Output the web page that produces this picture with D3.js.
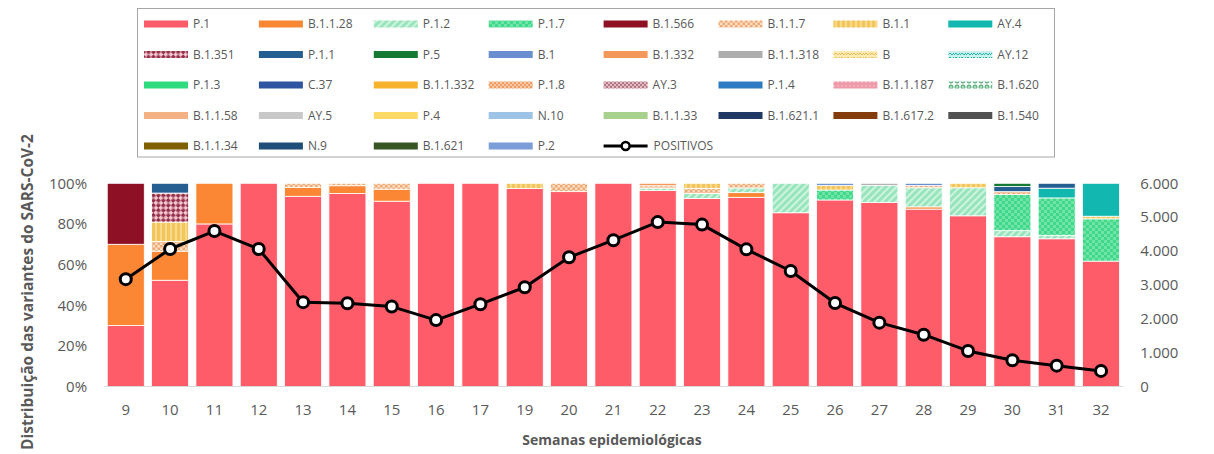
<!DOCTYPE html>
<html>
<head>
<meta charset="utf-8">
<script src="https://cdn.jsdelivr.net/npm/d3@7"></script>
<style>
  body { margin: 0; background: #fff; }
  text { font-family: "Open Sans", "Liberation Sans", sans-serif; }
</style>
</head>
<body>
<svg id="chart" width="1214" height="454"></svg>
<script>
// Epidemiological weeks on the x axis
const weeks = ["9","10","11","12","13","14","15","16","17","19","20","21","22","23","24","25","26","27","28","29","30","31","32"];

// Positive cases per week (right axis)
const positives = [3170, 4060, 4590, 4060, 2490, 2460, 2360, 1960, 2430, 2930, 3815, 4320, 4855, 4780, 4050, 3410, 2465, 1885, 1530, 1050, 775, 615, 460];

// Variant names, in stacking / legend order
const variants = ["P.1","B.1.1.28","P.1.2","P.1.7","B.1.566","B.1.1.7","B.1.1","AY.4",
  "B.1.351","P.1.1","P.5","B.1","B.1.332","B.1.1.318","B","AY.12",
  "P.1.3","C.37","B.1.1.332","P.1.8","AY.3","P.1.4","B.1.1.187","B.1.620",
  "B.1.1.58","AY.5","P.4","N.10","B.1.1.33","B.1.621.1","B.1.617.2","B.1.540",
  "B.1.1.34","N.9","B.1.621","P.2"];

// Base colour of each variant
const variantColors = ["#FF5C6A","#FB8633","#9BE6BF","#40D98A","#8E1025","#F6C9A4","#F2C75E","#12B8B0",
  "#C05A72","#255E91","#157A33","#6A8ED0","#F3975B","#ADADAD","#FCE3A0","#8EDDD5",
  "#2EDB7F","#2F55A0","#F8B32C","#F4A87A","#C8949E","#2E7BC2","#EE9AA8","#3C9A66",
  "#F4B183","#C8C8C8","#FFD966","#9DC3E6","#A9D18E","#203864","#843C0C","#525252",
  "#7F6000","#1F4E79","#375623","#7B9ED8"];

// Share (%) of each detected variant per week
const shareP1      = [30, 52.3, 80, 100, 93.6, 95, 91.2, 100, 100, 97.5, 95.9, 100, 96.4, 92.5, 93.1, 85.5, 91.8, 90.5, 87.3, 84.0, 73.7, 72.7, 61.7];
const shareB1128   = [40, 14.3, 20, 0, 4.3, 3.8, 5.9, 0, 0, 0, 0, 0, 0, 0, 2.3, 0, 0, 0, 1.1, 0, 0, 0, 0];
const shareP12     = [0, 0, 0, 0, 0, 0, 0, 0, 0, 0, 0, 0, 1.2, 2.5, 2.3, 14.5, 0, 8.5, 9.4, 13.8, 3.0, 1.7, 0];
const shareP17     = [0, 0, 0, 0, 0, 0, 0, 0, 0, 0, 0, 0, 0, 0, 0, 0, 4.9, 0, 0, 0, 17.8, 18.4, 20.8];
const shareB1566   = [30, 0, 0, 0, 0, 0, 0, 0, 0, 0, 0, 0, 0, 0, 0, 0, 0, 0, 0, 0, 0, 0, 0];
const shareB117    = [0, 4.8, 0, 0, 2.1, 1.2, 2.9, 0, 0, 0, 4.1, 0, 1.2, 2.5, 2.3, 0, 0, 0, 1.1, 0, 1.4, 0, 0];
const shareB11     = [0, 9.5, 0, 0, 0, 0, 0, 0, 0, 2.5, 0, 0, 0, 2.5, 0, 0, 2.3, 0, 0, 2.2, 0, 0, 1.3];
const shareAY4     = [0, 0, 0, 0, 0, 0, 0, 0, 0, 0, 0, 0, 0, 0, 0, 0, 0, 0, 0, 0, 0, 4.8, 16.2];
const shareB1351   = [0, 14.3, 0, 0, 0, 0, 0, 0, 0, 0, 0, 0, 0, 0, 0, 0, 0, 0, 0, 0, 0, 0, 0];
const shareP11     = [0, 4.8, 0, 0, 0, 0, 0, 0, 0, 0, 0, 0, 0, 0, 0, 0, 0, 0, 0, 0, 2.5, 2.4, 0];
const shareP5      = [0, 0, 0, 0, 0, 0, 0, 0, 0, 0, 0, 0, 0, 0, 0, 0, 0, 0, 0, 0, 1.6, 0, 0];
const shareB1      = [0, 0, 0, 0, 0, 0, 0, 0, 0, 0, 0, 0, 0, 0, 0, 0, 1.0, 0, 1.1, 0, 0, 0, 0];
const shareB1332   = [0, 0, 0, 0, 0, 0, 0, 0, 0, 0, 0, 0, 1.2, 0, 0, 0, 0, 0, 0, 0, 0, 0, 0];
const shareB11318  = [0, 0, 0, 0, 0, 0, 0, 0, 0, 0, 0, 0, 0, 0, 0, 0, 0, 1.0, 0, 0, 0, 0, 0];

// Left-axis and right-axis ticks
const pctTicks = [0, 20, 40, 60, 80, 100];
const posTicks = [0, 1000, 2000, 3000, 4000, 5000, 6000];

const detected = new Map([
  ["P.1", shareP1], ["B.1.1.28", shareB1128], ["P.1.2", shareP12], ["P.1.7", shareP17],
  ["B.1.566", shareB1566], ["B.1.1.7", shareB117], ["B.1.1", shareB11], ["AY.4", shareAY4],
  ["B.1.351", shareB1351], ["P.1.1", shareP11], ["P.5", shareP5], ["B.1", shareB1],
  ["B.1.332", shareB1332], ["B.1.1.318", shareB11318]
]);

const table = weeks.map((w, i) => {
  const row = { week: w };
  variants.forEach(v => { row[v] = detected.has(v) ? detected.get(v)[i] : 0; });
  return row;
});

const svg = d3.select("#chart");
const textColor = "#595959";

// ---- patterned fills ----
const defs = svg.append("defs");
function addPattern(id, w, h, bg, draw, rotate) {
  const p = defs.append("pattern").attr("id", id).attr("patternUnits", "userSpaceOnUse")
    .attr("width", w).attr("height", h);
  if (rotate) p.attr("patternTransform", `rotate(${rotate})`);
  p.append("rect").attr("width", w).attr("height", h).attr("fill", bg);
  draw(p);
}
const checker = (c, s) => p => {
  p.append("rect").attr("x", 0).attr("y", 0).attr("width", s).attr("height", s).attr("fill", c);
  p.append("rect").attr("x", s).attr("y", s).attr("width", s).attr("height", s).attr("fill", c);
};
const zigzag = c => p => p.append("path").attr("d", "M0,3 L2,1 L4,3 L6,1").attr("fill", "none")
  .attr("stroke", c).attr("stroke-width", 1);

addPattern("pat-P12", 5, 5, "#98E4BC", p => p.append("rect").attr("width", 2).attr("height", 5).attr("fill", "#CDF4DF"), 45);
addPattern("pat-P17", 6, 6, "#3FD98A", checker("#72E3A8", 3));
addPattern("pat-B117", 5, 5, "#FBDDC2", checker("#EDAA76", 2.5));
addPattern("pat-B11", 5, 5, "#F2C65C", p => p.append("rect").attr("width", 2).attr("height", 5).attr("fill", "#F7D98C"));
addPattern("pat-B1351", 7, 7, "#F3C9D1", checker("#94304A", 3.5), 45);
addPattern("pat-B", 6, 4, "#FDEBB5", zigzag("#E9BE55"));
addPattern("pat-AY12", 6, 4, "#CBF1EC", zigzag("#22B5AA"));
addPattern("pat-P18", 4, 4, "#F8CBA8", checker("#EE9A62", 2));
addPattern("pat-AY3", 4, 4, "#E3BCC3", checker("#B27784", 2));
addPattern("pat-B11187", 4, 4, "#EE9AA8", p => p.append("circle").attr("cx", 2).attr("cy", 2).attr("r", 0.8).attr("fill", "#F7C8D1"));
addPattern("pat-B1620", 6, 6, "#F2FBF5", p => p.append("circle").attr("cx", 3).attr("cy", 3).attr("r", 2).attr("fill", "#9FDDB8").attr("stroke", "#2E8B57").attr("stroke-width", 0.8));

const patterned = {
  "P.1.2": "pat-P12", "P.1.7": "pat-P17", "B.1.1.7": "pat-B117", "B.1.1": "pat-B11",
  "B.1.351": "pat-B1351", "B": "pat-B", "AY.12": "pat-AY12", "P.1.8": "pat-P18",
  "AY.3": "pat-AY3", "B.1.1.187": "pat-B11187", "B.1.620": "pat-B1620"
};
const fillOf = v => patterned[v] ? `url(#${patterned[v]})` : variantColors[variants.indexOf(v)];

// ---- scales ----
const x = d3.scaleBand().domain(weeks).range([103.6, 1123.2]).paddingInner(0.165).paddingOuter(0.0825);
const yPct = d3.scaleLinear().domain([0, 100]).range([386.5, 183.3]);
const yPos = d3.scaleLinear().domain([0, 6000]).range([386.5, 183.3]);

// ---- stacked bars ----
const stack = d3.stack().keys(variants).value((d, k) => d[k]);
const layers = stack(table);

const gBars = svg.append("g");
layers.forEach(layer => {
  gBars.append("g").selectAll("rect")
    .data(layer.filter(d => d[1] - d[0] > 0))
    .join("rect")
    .attr("x", d => x(d.data.week))
    .attr("width", x.bandwidth())
    .attr("y", d => yPct(d[1]))
    .attr("height", d => yPct(d[0]) - yPct(d[1]))
    .attr("fill", fillOf(layer.key))
    .attr("stroke", "#fff")
    .attr("stroke-width", 0.8);
});

// baseline
svg.append("line").attr("x1", 103.6).attr("x2", 1123.2).attr("y1", 386.5).attr("y2", 386.5)
  .attr("stroke", "#D9D9D9").attr("stroke-width", 1);

// ---- axes ----
const ptBR = d3.formatLocale({ decimal: ",", thousands: ".", grouping: [3], currency: ["R$", ""] });

const axL = svg.append("g").attr("transform", "translate(103.6,0)")
  .call(d3.axisLeft(yPct).tickValues(pctTicks).tickFormat(d => d + "%").tickSize(0).tickPadding(16.5));
const axR = svg.append("g").attr("transform", "translate(1123.2,0)")
  .call(d3.axisRight(yPos).tickValues(posTicks).tickFormat(ptBR.format(",d")).tickSize(0).tickPadding(17));
const axB = svg.append("g").attr("transform", "translate(0,386.5)")
  .call(d3.axisBottom(x).tickSize(0).tickPadding(18));
[axL, axR, axB].forEach(a => {
  a.select(".domain").remove();
  a.selectAll("text").attr("fill", textColor).style("font-size", "15px")
    .style("font-family", "'Open Sans', sans-serif");
});

// ---- positives line ----
const line = d3.line().x((d, i) => x(weeks[i]) + x.bandwidth() / 2).y(d => yPos(d));
svg.append("path").datum(positives).attr("d", line).attr("fill", "none")
  .attr("stroke", "#000").attr("stroke-width", 3).attr("stroke-linejoin", "round");
svg.append("g").selectAll("circle").data(positives).join("circle")
  .attr("cx", (d, i) => x(weeks[i]) + x.bandwidth() / 2)
  .attr("cy", d => yPos(d))
  .attr("r", 5.5).attr("fill", "#fff").attr("stroke", "#000").attr("stroke-width", 3);

// ---- titles ----
svg.append("text").attr("transform", "translate(33,292) rotate(-90)")
  .attr("text-anchor", "middle").attr("fill", textColor)
  .style("font-size", "15.5px").style("font-weight", "bold")
  .text("Distribuição das variantes do SARS-CoV-2");
svg.append("text").attr("x", 612).attr("y", 445)
  .attr("text-anchor", "middle").attr("fill", textColor)
  .style("font-size", "14px").style("font-weight", "bold")
  .text("Semanas epidemiológicas");

// ---- legend ----
const legend = svg.append("g");
legend.append("rect").attr("x", 137.5).attr("y", 8.5).attr("width", 917).attr("height", 148.5)
  .attr("fill", "none").attr("stroke", "#A6A6A6").attr("stroke-width", 1);
const colW = 114.9, rowH = 30.5, lx0 = 144, ly0 = 24;
variants.forEach((v, i) => {
  const cx = lx0 + (i % 8) * colW, cy = ly0 + Math.floor(i / 8) * rowH;
  legend.append("rect").attr("x", cx).attr("y", cy - 3.5).attr("width", 44).attr("height", 7)
    .attr("fill", fillOf(v));
  legend.append("text").attr("x", cx + 49).attr("y", cy).attr("dy", "0.35em")
    .attr("fill", textColor).style("font-size", "12px").text(v);
});
{
  const i = variants.length;
  const cx = lx0 + (i % 8) * colW, cy = ly0 + Math.floor(i / 8) * rowH;
  legend.append("line").attr("x1", cx).attr("x2", cx + 44).attr("y1", cy).attr("y2", cy)
    .attr("stroke", "#000").attr("stroke-width", 3);
  legend.append("circle").attr("cx", cx + 22).attr("cy", cy).attr("r", 4)
    .attr("fill", "#fff").attr("stroke", "#000").attr("stroke-width", 2.5);
  legend.append("text").attr("x", cx + 50).attr("y", cy).attr("dy", "0.35em")
    .attr("fill", textColor).style("font-size", "12px").text("POSITIVOS");
}
</script>
</body>
</html>
